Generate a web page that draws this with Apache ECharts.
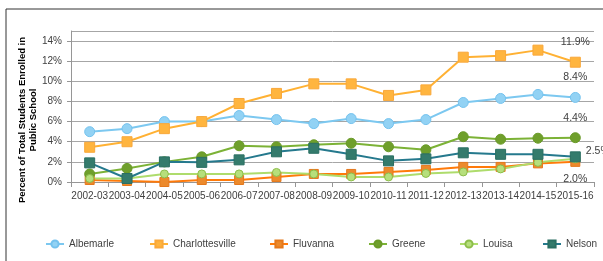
<!DOCTYPE html>
<html>
<head>
<meta charset="utf-8">
<script src="https://cdn.jsdelivr.net/npm/echarts@6/dist/echarts.min.js"></script>
<style>
  html, body { margin: 0; padding: 0; background: #fff; }
  #chart { width: 603px; height: 261px; }
</style>
</head>
<body>
<div id="chart"></div>
<script>
// school years on the x axis
var years = ["2002-03", "2003-04", "2004-05", "2005-06", "2006-07", "2007-08", "2008-09",
  "2009-10", "2010-11", "2011-12", "2012-13", "2013-14", "2014-15", "2015-16"];

// percent of students enrolled
var albemarle = [5.0, 5.3, 6.0, 6.0, 6.6, 6.2, 5.8, 6.3, 5.8, 6.2, 7.9, 8.3, 8.7, 8.4];
var charlottesville = [3.45, 4.0, 5.3, 6.0, 7.8, 8.8, 9.75, 9.75, 8.6, 9.15, 12.4, 12.55, 13.1, 11.9];
var fluvanna = [0.2, 0.1, 0.0, 0.2, 0.2, 0.5, 0.8, 0.8, 1.0, 1.2, 1.5, 1.5, 1.85, 2.0];
var greene = [0.8, 1.35, 2.0, 2.5, 3.6, 3.5, 3.7, 3.85, 3.5, 3.2, 4.5, 4.25, 4.35, 4.4];
var louisa = [0.35, 0.35, 0.8, 0.8, 0.8, 0.95, 0.8, 0.5, 0.5, 0.85, 1.0, 1.3, 1.95, 2.3];
var nelson = [1.9, 0.35, 2.0, 1.95, 2.2, 3.0, 3.35, 2.75, 2.1, 2.3, 2.9, 2.75, 2.75, 2.5];

var names = ["Albemarle", "Charlottesville", "Fluvanna", "Greene", "Louisa", "Nelson"];
var yTicks = [0, 2, 4, 6, 8, 10, 12, 14];

var chartDom = document.getElementById("chart");
var myChart = echarts.init(chartDom);

var txt = "#404040";
var font = "Liberation Sans";

// series builder: label only the last point
function makeSeries(name, data, color, markColor, border, symbol, size, labelPos, labelOffset) {
  return {
    name: name,
    type: "line",
    data: data.map(function (v, i) {
      if (i !== data.length - 1 || !labelPos) return v;
      return {
        value: v,
        label: {
          show: true,
          position: labelPos,
          offset: labelOffset || [0, 0],
          formatter: function (p) { return p.value.toFixed(1) + "%"; },
          color: txt,
          fontSize: 10.5,
          fontFamily: font,
        },
      };
    }),
    symbol: symbol,
    symbolSize: size,
    lineStyle: { color: color, width: 2 },
    itemStyle: { color: markColor, borderColor: border, borderWidth: 1 },
    emphasis: { disabled: true },
    z: 2,
  };
}

// one legend per name so each sits where the reference puts it
var legendLeft = [40, 144, 264, 363, 454, 537];
var legends = names.map(function (n, i) {
  return {
    data: [n],
    top: 234,
    left: legendLeft[i],
    itemWidth: 18,
    itemHeight: 9,
    textStyle: { color: txt, fontSize: 10, fontFamily: font },
  };
});

var option = {
  animation: false,
  grid: { left: 71, right: 9, top: 31, bottom: 79 },
  legend: legends,
  xAxis: {
    type: "category",
    data: years,
    boundaryGap: true,
    axisLine: { lineStyle: { color: "#969696" } },
    axisTick: { show: true, length: 5, lineStyle: { color: "#969696" } },
    axisLabel: { color: txt, fontSize: 10, fontFamily: font, margin: 9, interval: 0 },
  },
  yAxis: {
    type: "value",
    min: 0,
    max: 15,
    interval: 2,
    axisLine: { show: true, lineStyle: { color: "#969696" } },
    axisTick: { show: true, length: 4, lineStyle: { color: "#969696" } },
    axisLabel: {
      color: txt, fontSize: 10, fontFamily: font, margin: 9,
      showMaxLabel: false,
      formatter: function (v) { return yTicks.indexOf(v) >= 0 ? v + "%" : ""; },
    },
    splitLine: { lineStyle: { color: "#a6a6a6" } },
  },
  graphic: [
    {
      type: "rect",
      shape: { x: 6, y: 9, width: 620, height: 280 },
      style: { fill: "none", stroke: "#333", lineWidth: 1 },
      silent: true,
    },
    {
      type: "text",
      x: 28,
      y: 120,
      rotation: Math.PI / 2,
      style: {
        text: "Percent of Total Students Enrolled in\nPublic School",
        fill: "#000",
        font: "bold 9.5px 'Liberation Sans'",
        align: "center",
        verticalAlign: "middle",
        lineHeight: 10.5,
      },
    },
  ],
  series: [
    makeSeries("Albemarle", albemarle, "#7cc8f0", "#92d2f4", "#74c2ee", "circle", 10, "top", [0, -4]),
    makeSeries("Charlottesville", charlottesville, "#ffb133", "#ffb53f", "#f9a83a", "rect", 10, "top", [0, -4]),
    makeSeries("Fluvanna", fluvanna, "#ff7a0a", "#ec8a2c", "#e4781c", "rect", 9, "bottom", [0, 2]),
    makeSeries("Greene", greene, "#7cb236", "#6f9f2c", "#6a9a28", "circle", 10, "top", [0, -4]),
    makeSeries("Louisa", louisa, "#aedc6c", "#b6df7c", "#8cbd4a", "circle", 8, null),
    makeSeries("Nelson", nelson, "#25798d", "#347b6c", "#2a6f63", "rect", 10, "right", [0, -6]),
  ],
};

myChart.setOption(option);
window.addEventListener("resize", function () { myChart.resize(); });
</script>
</body>
</html>
